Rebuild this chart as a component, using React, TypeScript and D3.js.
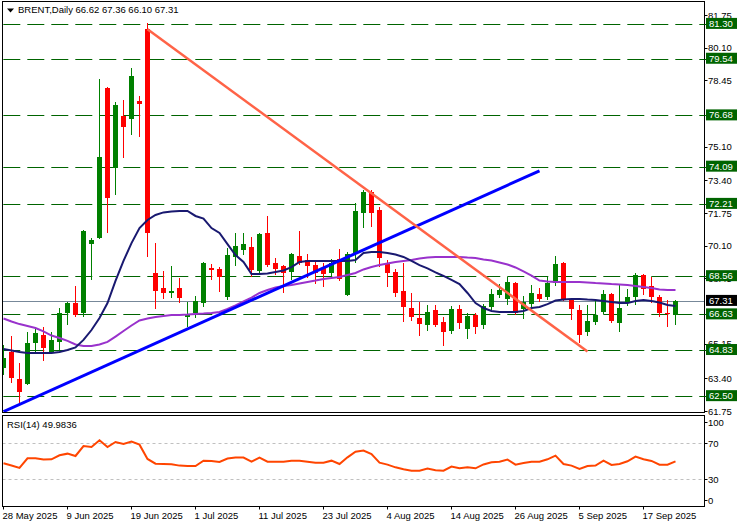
import React from "react";
import * as d3 from "d3";

const symbol = "BRENT,Daily";

const opens = [
  63.92, 64.73, 63.37, 63.11, 65.18, 65.59, 64.73, 65.24, 66.7, 67.2,
  66.7, 70.18, 70.49, 78.06, 74.02, 76.65, 76.5, 77.41, 81.04, 68.72,
  67.96, 67.71, 67.96, 66.5, 66.7, 67.2, 68.97, 68.92, 67.51, 69.53,
  69.88, 70.03, 68.82, 70.74, 69.22, 69.07, 68.77, 69.58, 69.38, 69.12,
  68.97, 68.72, 69.43, 67.61, 69.73, 71.75, 72.81, 71.9, 69.17, 68.77,
  67.81, 66.95, 66.45, 66.09, 66.85, 66.24, 65.79, 66.9, 65.89, 66.6,
  66.09, 67.0, 67.61, 67.41, 68.21, 66.9, 67.15, 67.66, 67.51, 68.21,
  69.22, 67.36, 66.85, 65.74, 66.24, 66.75, 67.66, 66.19, 67.2, 67.51,
  68.62, 68.06, 67.51, 66.7, 66.62,
];
const highs = [
  65.08, 65.54, 64.17, 65.74, 65.99, 65.99, 65.74, 66.95, 67.25, 68.06,
  70.87, 70.49, 78.52, 78.1, 77.36, 77.46, 79.07, 77.66, 81.35, 70.23,
  68.82, 69.07, 68.47, 67.25, 67.56, 69.28, 69.17, 69.02, 69.98, 70.74,
  70.74, 70.54, 70.74, 71.6, 69.48, 69.12, 69.73, 70.84, 69.68, 69.33,
  69.22, 69.43, 69.93, 69.78, 72.26, 72.91, 72.91, 72.05, 69.38, 68.92,
  69.22, 67.71, 67.25, 67.1, 67.1, 66.5, 67.05, 67.1, 66.7, 66.7,
  67.15, 67.91, 68.16, 68.52, 68.26, 67.56, 68.11, 67.96, 68.52, 69.58,
  69.28, 67.41, 67.1, 67.1, 67.31, 67.86, 67.71, 68.11, 67.91, 68.72,
  68.67, 68.52, 67.61, 67.36, 67.36,
];
const lows = [
  63.57, 63.16, 62.15, 63.08, 64.68, 64.28, 64.68, 64.83, 66.09, 66.5,
  66.5, 68.37, 70.45, 70.74, 72.66, 74.53, 75.69, 75.59, 69.53, 66.9,
  67.41, 67.46, 67.2, 65.99, 66.45, 67.0, 68.37, 67.76, 67.36, 69.07,
  69.63, 68.52, 68.72, 69.02, 68.62, 67.71, 68.37, 69.12, 68.47, 68.16,
  68.01, 68.52, 68.32, 67.56, 69.22, 71.0, 71.04, 69.02, 68.01, 67.51,
  66.24, 66.3, 65.54, 65.79, 65.99, 65.03, 65.64, 65.89, 65.39, 65.64,
  65.89, 66.85, 67.46, 67.1, 66.6, 66.4, 67.0, 67.25, 67.36, 68.06,
  67.31, 66.35, 65.18, 65.54, 66.09, 66.65, 66.19, 65.74, 67.05, 67.1,
  67.61, 67.2, 66.5, 65.99, 66.1,
];
const closes = [
  64.43, 63.42, 62.71, 65.18, 65.69, 64.93, 65.34, 66.7, 67.2, 66.6,
  70.84, 70.39, 74.58, 72.51, 77.2, 76.09, 78.67, 77.26, 70.74, 67.81,
  67.71, 67.81, 67.46, 66.6, 67.31, 69.22, 68.87, 68.52, 69.63, 70.08,
  70.18, 68.87, 70.69, 69.12, 68.92, 68.72, 69.68, 69.22, 69.07, 68.72,
  68.67, 69.22, 68.42, 69.68, 71.85, 72.81, 71.75, 69.48, 68.72, 67.71,
  67.0, 66.5, 66.14, 66.75, 66.09, 65.74, 66.9, 66.19, 66.55, 65.99,
  67.05, 67.66, 67.86, 68.27, 66.7, 67.25, 67.71, 67.41, 68.21, 69.17,
  67.41, 66.9, 65.59, 66.3, 66.6, 67.66, 66.3, 66.95, 67.51, 68.62,
  67.91, 67.51, 66.7, 66.65, 67.31,
];

const maFast = [
  64.88, 64.81, 64.73, 64.68, 64.68, 64.68, 64.68, 64.73, 64.83, 64.96,
  65.34, 65.84, 66.45, 67.2, 68.32, 69.33, 70.23, 70.99, 71.4, 71.65,
  71.78, 71.83, 71.85, 71.85, 71.6, 71.47, 70.99, 70.74, 70.18, 69.63,
  69.28, 68.67, 68.67, 68.69, 68.77, 68.85, 69.02, 69.28, 69.33, 69.33,
  69.33, 69.33, 69.33, 69.33, 69.38, 69.73, 69.78, 69.78, 69.73, 69.65,
  69.53, 69.33, 69.12, 68.95, 68.75, 68.57, 68.37, 68.16, 67.71, 67.2,
  66.95, 66.8, 66.75, 66.75, 66.75, 66.8, 66.95, 67.0, 67.15, 67.33,
  67.38, 67.41, 67.41, 67.38, 67.36, 67.31, 67.26, 67.2, 67.2, 67.31,
  67.36, 67.31, 67.23, 67.1, 67.05,
];
const maSlow = [
  66.42, 66.27, 66.14, 66.04, 65.94, 65.77, 65.56, 65.44, 65.29, 65.11,
  65.03, 65.03, 65.11, 65.24, 65.51, 65.79, 66.07, 66.32, 66.42, 66.5,
  66.55, 66.6, 66.6, 66.62, 66.65, 66.67, 66.7, 66.75, 66.9, 67.08,
  67.28, 67.48, 67.71, 67.86, 67.99, 68.06, 68.11, 68.19, 68.27, 68.34,
  68.42, 68.47, 68.52, 68.62, 68.72, 68.9, 69.02, 69.12, 69.2, 69.28,
  69.33, 69.38, 69.45, 69.5, 69.53, 69.53, 69.53, 69.53, 69.5, 69.48,
  69.4, 69.35, 69.25, 69.15, 69.0, 68.8, 68.59, 68.34, 68.29, 68.27,
  68.27, 68.27, 68.27, 68.24, 68.21, 68.19, 68.16, 68.14, 68.11, 68.06,
  68.01, 67.96, 67.89, 67.86, 67.86,
];

const rsiValues = [
  47.8, 45.4, 42.6, 53.3, 53.3, 51.9, 52.2, 56.7, 58.5, 55.9,
  67.0, 65.9, 73.3, 65.9, 71.5, 69.3, 71.9, 68.5, 52.6, 47.4,
  47.0, 46.7, 45.2, 44.8, 44.8, 50.7, 50.4, 49.3, 53.0, 54.1,
  54.1, 49.6, 54.1, 49.6, 49.6, 49.6, 50.7, 50.7, 49.6, 48.5,
  48.5, 50.7, 47.0, 54.4, 60.7, 61.9, 58.1, 48.5, 46.3, 43.3,
  41.1, 39.6, 39.6, 41.9, 40.0, 39.6, 44.1, 42.2, 43.3, 42.2,
  46.5, 48.9, 49.6, 51.9, 46.3, 48.1, 49.6, 49.6, 52.2, 56.3,
  47.0, 45.2, 41.5, 44.8, 45.2, 50.7, 45.9, 47.0, 50.0, 55.2,
  52.2, 50.4, 46.3, 46.3, 49.98,
];
const rsiLabel = "RSI(14) 49.9836";

const levelPrices = [81.3, 79.54, 76.68, 74.09, 72.21, 68.56, 66.63, 64.83, 62.5];
// visible price-scale labels (those fully covered by level boxes in the reference are omitted)
const priceTicks = [81.75, 80.1, 78.45, 75.1, 73.4, 71.75, 70.1, 68.45, 65.15, 63.4, 61.75];
const bidPrice = 67.31;

const dateTickBars = [0, 8, 16, 24, 32, 40, 48, 56, 64, 72, 80];
const dateTickLabels = [
  "28 May 2025", "9 Jun 2025", "19 Jun 2025", "1 Jul 2025", "11 Jul 2025",
  "23 Jul 2025", "4 Aug 2025", "14 Aug 2025", "26 Aug 2025", "5 Sep 2025", "17 Sep 2025",
];

const rsiTicks = [100, 70, 30, 0];
const rsiLevels = [70, 30];

const blueTrendBars = [0, 67];
const blueTrendPrices = [61.72, 73.88];
const orangeTrendBars = [18, 73];
const orangeTrendPrices = [81.03, 64.75];

const FONT = "'Liberation Sans', Arial, sans-serif";
const FS = 9.5;

export default function App() {
  const W = 744;
  const H = 527;
  const left = 2.5;
  const axisX = 704.5;
  const mainTop = 1.5;
  const mainBottom = 412.5;
  const rsiTop = 415.5;
  const rsiBottom = 506.5;

  const n = closes.length;
  const x = d3.scaleLinear().domain([0, n - 1]).range([3.5, 3.5 + 8 * (n - 1)]);
  const y = d3.scaleLinear().domain([61.75, 81.75]).range([411, 15]);
  const ry = d3.scaleLinear().domain([0, 100]).range([506.3, 416.3]);

  const maLine = d3
    .line<number>()
    .x((_, i) => x(i))
    .y((d) => y(d));
  const rsiLine = d3
    .line<number>()
    .x((_, i) => x(i))
    .y((d) => ry(d));

  const header = `${symbol} ${opens[n - 1].toFixed(2)} ${highs[n - 1].toFixed(2)} ${lows[n - 1].toFixed(2)} ${closes[n - 1].toFixed(2)}`;

  return (
    <>
      <style>{`body{margin:0;} svg{display:block;}`}</style>
      <svg width={W} height={H} viewBox={`0 0 ${W} ${H}`} fontFamily={FONT} fontSize={FS}>
        <defs>
          <clipPath id="mainClip">
            <rect x={left + 0.5} y={mainTop + 0.5} width={axisX - left - 1} height={mainBottom - mainTop - 1} />
          </clipPath>
          <clipPath id="rsiClip">
            <rect x={left + 0.5} y={rsiTop + 0.5} width={axisX - left - 1} height={rsiBottom - rsiTop - 1} />
          </clipPath>
        </defs>
        <rect x={0} y={0} width={W} height={H} fill="#ffffff" />

        {/* header */}
        <polygon points="7,8.5 14,8.5 10.5,12.5" fill="#000" />
        <text x={18} y={12.5} fill="#000">{header}</text>

        <g clipPath="url(#mainClip)">
          {levelPrices.map((p, i) => (
            <line key={"lv" + i} x1={3.3} x2={axisX} y1={Math.round(y(p)) + 0.5} y2={Math.round(y(p)) + 0.5}
              stroke="#006400" strokeWidth={1} strokeDasharray="17,7" />
          ))}
          <line x1={left} x2={axisX} y1={Math.round(y(bidPrice)) + 0.5} y2={Math.round(y(bidPrice)) + 0.5}
            stroke="#778899" strokeWidth={1} />

          <g shapeRendering="crispEdges">
            {closes.map((c, i) => {
              const o = opens[i];
              const up = c >= o;
              const col = up ? "#008000" : "#ff0000";
              const cx = x(i);
              const yTop = y(Math.max(o, c));
              const yBot = y(Math.min(o, c));
              return (
                <g key={"c" + i}>
                  <line x1={cx} x2={cx} y1={y(highs[i])} y2={y(lows[i])} stroke={col} strokeWidth={1} />
                  <rect x={cx - 2.5} y={yTop} width={5} height={Math.max(1, yBot - yTop)} fill={col} />
                </g>
              );
            })}
          </g>

          <path d={maLine(maSlow) || ""} fill="none" stroke="#9932cc" strokeWidth={2} />
          <path d={maLine(maFast) || ""} fill="none" stroke="#191970" strokeWidth={2} />

          <line x1={x(blueTrendBars[0])} y1={y(blueTrendPrices[0])} x2={x(blueTrendBars[1])} y2={y(blueTrendPrices[1])}
            stroke="#0000ff" strokeWidth={3} />
          <line x1={x(orangeTrendBars[0])} y1={y(orangeTrendPrices[0])} x2={x(orangeTrendBars[1])} y2={y(orangeTrendPrices[1])}
            stroke="#ff6347" strokeWidth={2.5} />
        </g>

        <rect x={left} y={mainTop} width={axisX - left} height={mainBottom - mainTop} fill="none" stroke="#000" strokeWidth={1} />

        {priceTicks.map((p, i) => (
          <g key={"pt" + i}>
            <line x1={axisX} x2={axisX + 3} y1={Math.round(y(p)) + 0.5} y2={Math.round(y(p)) + 0.5} stroke="#000" />
            <text x={708} y={y(p) + 3.5} fill="#000">{p.toFixed(2)}</text>
          </g>
        ))}
        {levelPrices.map((p, i) => (
          <g key={"lb" + i}>
            <line x1={axisX} x2={axisX + 3} y1={Math.round(y(p)) + 0.5} y2={Math.round(y(p)) + 0.5} stroke="#006400" />
            <rect x={706} y={y(p) - 6} width={31} height={11} fill="#006400" />
            <text x={709} y={y(p) + 3} fill="#ffffff">{p.toFixed(2)}</text>
          </g>
        ))}
        <rect x={706} y={y(bidPrice) - 6} width={31} height={11} fill="#000" />
        <text x={709} y={y(bidPrice) + 3} fill="#ffffff">{bidPrice.toFixed(2)}</text>

        <g clipPath="url(#rsiClip)">
          {rsiLevels.map((v, i) => (
            <line key={"rl" + i} x1={left} x2={axisX} y1={Math.round(ry(v)) + 0.5} y2={Math.round(ry(v)) + 0.5}
              stroke="#c0c0c0" strokeWidth={1} strokeDasharray="3,3" />
          ))}
          <path d={rsiLine(rsiValues) || ""} fill="none" stroke="#ff4500" strokeWidth={2} />
        </g>
        <rect x={left} y={rsiTop} width={axisX - left} height={rsiBottom - rsiTop} fill="none" stroke="#000" strokeWidth={1} />
        <text x={7} y={428} fill="#000">{rsiLabel}</text>
        {rsiTicks.map((v, i) => {
          const ty = Math.min(500, Math.max(422, ry(v)));
          return (
            <g key={"rt" + i}>
              <line x1={axisX} x2={axisX + 3} y1={Math.round(ty) + 0.5} y2={Math.round(ty) + 0.5} stroke="#000" />
              <text x={708} y={ty + 3.5} fill="#000">{String(v)}</text>
            </g>
          );
        })}

        {dateTickBars.map((b, i) => (
          <g key={"dt" + i}>
            <line x1={x(b)} x2={x(b)} y1={rsiBottom} y2={rsiBottom + 3} stroke="#000" />
            <text x={x(b) - 1} y={518.5} fill="#000">{dateTickLabels[i]}</text>
          </g>
        ))}
      </svg>
    </>
  );
}
